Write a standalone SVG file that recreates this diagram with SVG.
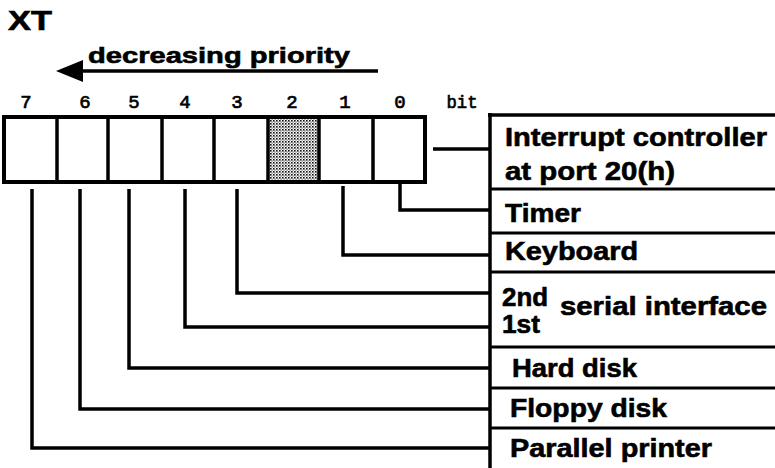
<svg xmlns="http://www.w3.org/2000/svg" width="775" height="468" viewBox="0 0 775 468">
<defs>
<pattern id="dots" width="3" height="3" patternUnits="userSpaceOnUse">
<rect width="3" height="3" fill="#fff"/>
<rect x="0" y="0" width="1.6" height="1.6" fill="#111"/>
<rect x="1.5" y="1.5" width="1.2" height="1.2" fill="#555"/>
</pattern>
</defs>
<style>
.lbl{font-family:"Liberation Sans",Arial,sans-serif;font-weight:bold;fill:#000;stroke:#000;stroke-width:0.6}
.mono{font-family:"Liberation Mono","Courier New",monospace;font-size:19px;fill:#000;stroke:#000;stroke-width:0.7}
.ln{fill:none;stroke:#000;stroke-width:3.5;stroke-linejoin:miter;stroke-linecap:butt}
</style>
<rect width="775" height="468" fill="#fff"/>
<g id="title">
<text class="lbl" x="8" y="30" font-size="27" textLength="44" lengthAdjust="spacingAndGlyphs">XT</text>
</g>
<g id="priority">
<text class="lbl" x="88" y="63" font-size="22" textLength="262" lengthAdjust="spacingAndGlyphs">decreasing priority</text>
<line x1="378" y1="71" x2="80" y2="71" stroke="#000" stroke-width="3.5"/>
<polygon points="56,71 83,60 83,82" fill="#000"/>
</g>
<g id="bitlabels" class="mono" text-anchor="middle">
<text x="26" y="108">7</text>
<text x="85" y="108">6</text>
<text x="134" y="108">5</text>
<text x="185" y="108">4</text>
<text x="237" y="108">3</text>
<text x="292" y="108">2</text>
<text x="345" y="108">1</text>
<text x="400" y="108">0</text>
<text x="462" y="108" textLength="31" lengthAdjust="spacingAndGlyphs">bit</text>
</g>
<g id="register">
<rect x="268" y="117" width="51" height="65" fill="url(#dots)"/>
<rect x="4" y="117" width="421" height="65" fill="none" stroke="#000" stroke-width="4"/>
<g stroke="#000" stroke-width="3.5">
<line x1="57" y1="117" x2="57" y2="182"/>
<line x1="108" y1="117" x2="108" y2="182"/>
<line x1="162" y1="117" x2="162" y2="182"/>
<line x1="214" y1="117" x2="214" y2="182"/>
<line x1="268" y1="117" x2="268" y2="182"/>
<line x1="319" y1="117" x2="319" y2="182"/>
<line x1="373" y1="117" x2="373" y2="182"/>
</g>
</g>
<g id="connectors" class="ln">
<polyline points="433,149 490,149"/>
<polyline points="400,184 400,210 490,210"/>
<polyline points="343,186 343,255 490,255"/>
<polyline points="237,189 237,293 490,293"/>
<polyline points="185,189 185,327 490,327"/>
<polyline points="129,189 129,368 490,368"/>
<polyline points="80,189 80,409 490,409"/>
<polyline points="32,189 32,448 490,448"/>
</g>
<g id="column-frame" stroke="#000" stroke-width="3.5">
<line x1="490" y1="113" x2="490" y2="468"/>
<line x1="488" y1="115" x2="775" y2="115"/>
</g>
<g id="node-interrupt">
<text class="lbl" x="505" y="146" font-size="26" textLength="262" lengthAdjust="spacingAndGlyphs">Interrupt controller</text>
<text class="lbl" x="505" y="180" font-size="26" textLength="170" lengthAdjust="spacingAndGlyphs">at port 20(h)</text>
<line x1="490" y1="189" x2="775" y2="189" stroke="#000" stroke-width="3"/>
</g>
<g id="node-timer">
<text class="lbl" x="505" y="222" font-size="26" textLength="76" lengthAdjust="spacingAndGlyphs">Timer</text>
<line x1="490" y1="233" x2="775" y2="233" stroke="#000" stroke-width="3"/>
</g>
<g id="node-keyboard">
<text class="lbl" x="505" y="260" font-size="26" textLength="133" lengthAdjust="spacingAndGlyphs">Keyboard</text>
<line x1="490" y1="272" x2="775" y2="272" stroke="#000" stroke-width="3"/>
</g>
<g id="node-serial">
<text class="lbl" x="502" y="306" font-size="25" textLength="46" lengthAdjust="spacingAndGlyphs">2nd</text>
<text class="lbl" x="502" y="333" font-size="25" textLength="38" lengthAdjust="spacingAndGlyphs">1st</text>
<text class="lbl" x="560" y="315" font-size="26" textLength="207" lengthAdjust="spacingAndGlyphs">serial interface</text>
<line x1="490" y1="347" x2="775" y2="347" stroke="#000" stroke-width="3"/>
</g>
<g id="node-harddisk">
<text class="lbl" x="512" y="377" font-size="26" textLength="125" lengthAdjust="spacingAndGlyphs">Hard disk</text>
<line x1="490" y1="388" x2="775" y2="388" stroke="#000" stroke-width="3"/>
</g>
<g id="node-floppy">
<text class="lbl" x="510" y="417" font-size="26" textLength="157" lengthAdjust="spacingAndGlyphs">Floppy disk</text>
<line x1="490" y1="428" x2="775" y2="428" stroke="#000" stroke-width="3"/>
</g>
<g id="node-printer">
<text class="lbl" x="510" y="457" font-size="26" textLength="202" lengthAdjust="spacingAndGlyphs">Parallel printer</text>
</g>
</svg>
